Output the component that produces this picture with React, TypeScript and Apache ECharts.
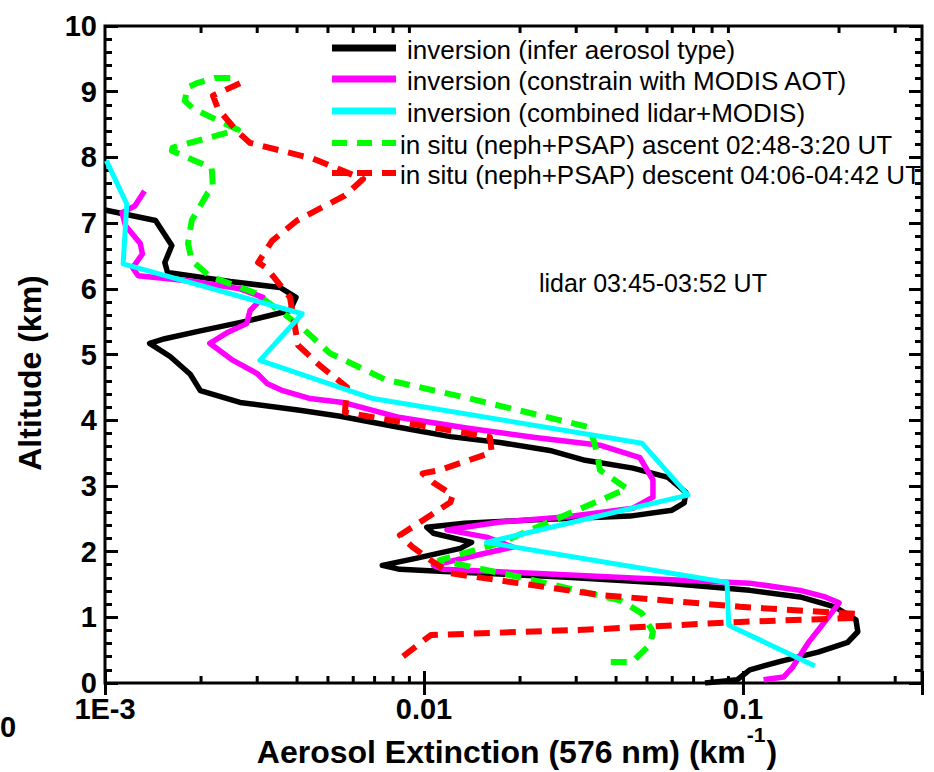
import React, { useEffect, useRef } from "react";
import * as echarts from "echarts";

const FONT = "'Liberation Sans', Arial, Helvetica, sans-serif";

const seriesNames = [
  "inversion (infer aerosol type)",
  "inversion (constrain with MODIS AOT)",
  "inversion (combined lidar+MODIS)",
  "in situ (neph+PSAP) ascent 02:48-3:20 UT",
  "in situ (neph+PSAP) descent 04:06-04:42 UT",
];

// inversion (infer aerosol type)
const blackAlt = [7.2, 7.04, 6.66, 6.4, 6.25, 6.11, 6.02, 5.87, 5.67, 5.52, 5.36, 5.24, 5.17, 4.97, 4.7, 4.45, 4.27, 4.15, 4.06, 3.89, 3.75, 3.66, 3.54, 3.39, 3.27, 3.13, 2.9, 2.74, 2.63, 2.54, 2.48, 2.43, 2.37, 2.28, 2.14, 2.05, 1.9, 1.79, 1.73, 1.7, 1.61, 1.52, 1.41, 1.31, 1.16, 0.96, 0.78, 0.62, 0.47, 0.33, 0.2, 0.05, 0.0];
const blackExt = [0.001, 0.00144, 0.00162, 0.00154, 0.00157, 0.00247, 0.00354, 0.00397, 0.0038, 0.00285, 0.00199, 0.00154, 0.00138, 0.0016, 0.00185, 0.00199, 0.00265, 0.00408, 0.00546, 0.00841, 0.0121, 0.0173, 0.0248, 0.032, 0.0452, 0.0582, 0.0662, 0.0654, 0.0599, 0.0442, 0.0215, 0.0134, 0.0102, 0.0107, 0.0141, 0.013, 0.0095, 0.0074, 0.0084, 0.0112, 0.0281, 0.0578, 0.105, 0.151, 0.194, 0.226, 0.229, 0.213, 0.172, 0.131, 0.105, 0.096, 0.076];

// inversion (constrain with MODIS AOT)
const magentaAlt = [7.49, 7.26, 7.16, 6.96, 6.69, 6.53, 6.32, 6.2, 6.12, 6.0, 5.87, 5.67, 5.47, 5.33, 5.17, 4.91, 4.71, 4.56, 4.45, 4.33, 4.27, 4.04, 3.88, 3.74, 3.62, 3.43, 3.09, 2.83, 2.66, 2.53, 2.45, 2.33, 2.22, 2.07, 1.91, 1.79, 1.73, 1.67, 1.6, 1.52, 1.41, 1.31, 1.22, 1.0, 0.61, 0.24, 0.09, 0.05];
const magentaExt = [0.00133, 0.00124, 0.00113, 0.00116, 0.00129, 0.00131, 0.00122, 0.00127, 0.00185, 0.00265, 0.00313, 0.00285, 0.00278, 0.00241, 0.00213, 0.00252, 0.003, 0.00322, 0.00361, 0.0044, 0.00557, 0.00841, 0.0136, 0.022, 0.0356, 0.0475, 0.0522, 0.0522, 0.0452, 0.0281, 0.0173, 0.0118, 0.0157, 0.019, 0.0136, 0.0107, 0.0115, 0.022, 0.0452, 0.105, 0.151, 0.181, 0.2, 0.185, 0.16, 0.143, 0.134, 0.116];

// inversion (combined lidar+MODIS)
const cyanAlt = [7.95, 7.29, 6.38, 5.62, 4.91, 4.33, 3.65, 2.86, 2.14, 1.53, 0.88, 0.26];
const cyanExt = [0.00101, 0.00117, 0.00114, 0.00415, 0.00306, 0.00692, 0.0482, 0.0672, 0.0157, 0.0891, 0.0902, 0.168];

// in situ ascent
const greenAlt = [9.21, 9.21, 9.13, 9.06, 8.86, 8.74, 8.42, 8.15, 8.1, 7.84, 7.54, 7.46, 7.04, 6.69, 6.43, 6.19, 5.94, 5.44, 5.02, 4.62, 4.33, 3.89, 3.5, 3.24, 2.96, 2.78, 2.13, 1.87, 1.61, 1.26, 1.06, 0.78, 0.58, 0.32, 0.32];
const greenExt = [0.00247, 0.00221, 0.00194, 0.00181, 0.00178, 0.00189, 0.00261, 0.00163, 0.00162, 0.00216, 0.00218, 0.0021, 0.00187, 0.00182, 0.00187, 0.00213, 0.00295, 0.00408, 0.00507, 0.00755, 0.0139, 0.0331, 0.0349, 0.0356, 0.0433, 0.0356, 0.0173, 0.0112, 0.02, 0.0411, 0.0482, 0.0522, 0.0511, 0.0449, 0.0375];

// in situ descent
const redAlt = [9.13, 8.94, 8.74, 8.4, 8.22, 7.98, 7.67, 7.42, 7.04, 6.73, 6.4, 6.31, 5.87, 5.14, 4.83, 4.5, 4.12, 3.74, 3.51, 3.24, 3.19, 3.05, 2.86, 2.75, 2.25, 2.07, 1.84, 1.67, 1.34, 1.16, 1.05, 0.99, 0.93, 0.82, 0.73, 0.35];
const redExt = [0.00265, 0.00218, 0.00226, 0.00259, 0.00285, 0.00449, 0.00644, 0.00565, 0.004, 0.00334, 0.00302, 0.00322, 0.0038, 0.00403, 0.00472, 0.00574, 0.00565, 0.0161, 0.0163, 0.0112, 0.0099, 0.0107, 0.0123, 0.0121, 0.0084, 0.0092, 0.0107, 0.0121, 0.0356, 0.098, 0.228, 0.228, 0.098, 0.0356, 0.0105, 0.0083];

const X_MIN = 0.001;
const X_MAX = 0.364;
const xTickValues = [0.001, 0.01, 0.1];
const xTickLabels = ["1E-3", "0.01", "0.1"];
const xMinorTicks = [0.002, 0.003, 0.004, 0.005, 0.006, 0.007, 0.008, 0.009, 0.02, 0.03, 0.04, 0.05, 0.06, 0.07, 0.08, 0.09, 0.2, 0.3];
const Y_MIN = 0;
const Y_MAX = 10;

const xTitle = "Aerosol Extinction (576 nm) (km";
const xTitleSup = "-1";
const xTitleEnd = ")";
const yTitle = "Altitude (km)";
const annotation = "lidar 03:45-03:52 UT";
const strayLabel = "0";

// drawing styles (not data)
const seriesStyles = [
  { color: "#000000", width: 5.5, dash: null as number[] | null, z: 3 },
  { color: "#ff00ff", width: 5.5, dash: null as number[] | null, z: 4 },
  { color: "#00ffff", width: 5, dash: null as number[] | null, z: 7 },
  { color: "#00ff00", width: 6, dash: [16, 10], z: 5 },
  { color: "#ff0000", width: 6, dash: [16, 10], z: 6 },
];

const pairs = (ext: number[], alt: number[]) => ext.map((v, i) => [v, alt[i]]);

function measure(text: string, font: string): number {
  const c = document.createElement("canvas").getContext("2d");
  if (!c) return text.length * 16;
  c.font = font;
  return c.measureText(text).width;
}

export default function App() {
  const ref = useRef<HTMLDivElement>(null);
  useEffect(() => {
    const chart = echarts.init(ref.current!, null, { renderer: "svg" });
    const tickLine = { color: "#000", width: 3 };
    const xLabelFormatter = (v: number) => {
      const i = xTickValues.findIndex((t) => Math.abs(Math.log10(t) - Math.log10(v)) < 1e-6);
      return i >= 0 ? xTickLabels[i] : "";
    };
    const xAxisBase = {
      type: "log",
      logBase: 10,
      min: X_MIN,
      max: X_MAX,
      axisLine: { show: false },
      splitLine: { show: false },
      axisTick: { inside: true, length: 12, lineStyle: tickLine },
    };
    const yAxisBase = {
      type: "value",
      min: Y_MIN,
      max: Y_MAX,
      interval: 1,
      axisLine: { show: false },
      splitLine: { show: false },
      axisTick: { inside: true, length: 13, lineStyle: tickLine },
      minorTick: { show: true, splitNumber: 5, length: 7, lineStyle: tickLine },
    };
    const datasets = [
      pairs(blackExt, blackAlt),
      pairs(magentaExt, magentaAlt),
      pairs(cyanExt, cyanAlt),
      pairs(greenExt, greenAlt),
      pairs(redExt, redAlt),
    ];
    const lineSeries = datasets.map((data, i) => {
      const s = seriesStyles[i];
      return {
        name: seriesNames[i],
        type: "line",
        data,
        symbol: "none",
        showSymbol: false,
        lineStyle: { color: s.color, width: s.width, type: s.dash || "solid", join: "round", cap: "butt" },
        itemStyle: { color: s.color },
        z: s.z,
        clip: true,
      };
    });

    // legend drawn as graphic: sample line + text per series
    const legendRowY = [48, 79, 111, 143, 173];
    const legendTextX = [407, 407, 407, 400, 400];
    const legendGraphics: any[] = [];
    seriesNames.forEach((name, i) => {
      const s = seriesStyles[i];
      legendGraphics.push({
        type: "line",
        shape: { x1: 332, y1: legendRowY[i], x2: 396, y2: legendRowY[i] },
        style: { stroke: s.color, lineWidth: s.dash ? 6 : 7, lineDash: s.dash ? [15, 10] : null },
        z: 100,
      });
      legendGraphics.push({
        type: "text",
        x: legendTextX[i],
        y: legendRowY[i] + 2,
        z: 100,
        style: {
          text: name,
          font: `26px ${FONT}`,
          fill: "#000",
          textAlign: "left",
          textVerticalAlign: "middle",
        },
      });
    });

    // x-axis title with superscript, laid out from measured widths
    const mainFont = `bold 32px ${FONT}`;
    const supFont = `bold 21px ${FONT}`;
    const w1 = measure(xTitle, mainFont);
    const w2 = measure(xTitleSup, supFont);
    const w3 = measure(xTitleEnd, mainFont);
    const titleCenter = 516;
    const x0 = titleCenter - (w1 + w2 + w3) / 2;
    const titleGraphics = [
      { type: "text", x: x0, y: 752, style: { text: xTitle, font: mainFont, fill: "#000", textAlign: "left", textVerticalAlign: "middle" } },
      { type: "text", x: x0 + w1 + 1, y: 734, style: { text: xTitleSup, font: supFont, fill: "#000", textAlign: "left", textVerticalAlign: "middle" } },
      { type: "text", x: x0 + w1 + w2 + 2, y: 752, style: { text: xTitleEnd, font: mainFont, fill: "#000", textAlign: "left", textVerticalAlign: "middle" } },
    ];

    const option: any = {
      animation: false,
      backgroundColor: "#fff",
      textStyle: { fontFamily: FONT },
      grid: {
        left: 105,
        right: 12,
        top: 26,
        bottom: 89,
        show: true,
        borderColor: "#000",
        borderWidth: 3,
        backgroundColor: "transparent",
      },
      xAxis: [
        {
          ...xAxisBase,
          position: "bottom",
          axisLabel: {
            formatter: xLabelFormatter,
            fontFamily: FONT,
            fontSize: 29,
            fontWeight: "bold",
            color: "#000",
            margin: 11,
          },
        },
        { ...xAxisBase, position: "top", axisLabel: { show: false } },
      ],
      yAxis: [
        {
          ...yAxisBase,
          position: "left",
          axisLabel: {
            fontFamily: FONT,
            fontSize: 29,
            fontWeight: "bold",
            color: "#000",
            margin: 8,
          },
        },
        { ...yAxisBase, position: "right", axisLabel: { show: false } },
      ],
      series: [
        {
          type: "custom",
          silent: true,
          xAxisIndex: 0,
          yAxisIndex: 0,
          data: xMinorTicks.map((v) => [v, Y_MIN]),
          z: 1,
          renderItem: (params: any, api: any) => {
            const v = api.value(0);
            const pb = api.coord([v, Y_MIN]);
            const pt = api.coord([v, Y_MAX]);
            const st = { stroke: "#000", lineWidth: 3 };
            return {
              type: "group",
              children: [
                { type: "line", shape: { x1: pb[0], y1: pb[1], x2: pb[0], y2: pb[1] - 7 }, style: st },
                { type: "line", shape: { x1: pt[0], y1: pt[1], x2: pt[0], y2: pt[1] + 7 }, style: st },
              ],
            };
          },
        },
        ...lineSeries,
      ],
      graphic: [
        ...legendGraphics,
        ...titleGraphics,
        {
          type: "text",
          x: 539,
          y: 283,
          style: {
            text: annotation,
            font: `25px ${FONT}`,
            fill: "#000",
            textAlign: "left",
            textVerticalAlign: "middle",
          },
        },
        {
          type: "text",
          x: 30,
          y: 373,
          rotation: Math.PI / 2,
          style: {
            text: yTitle,
            font: `bold 32px ${FONT}`,
            fill: "#000",
            textAlign: "center",
            textVerticalAlign: "middle",
          },
        },
        {
          type: "text",
          x: 8,
          y: 727,
          style: {
            text: strayLabel,
            font: `bold 29px ${FONT}`,
            fill: "#000",
            textAlign: "center",
            textVerticalAlign: "middle",
          },
        },
      ],
    };
    chart.setOption(option);
    return () => chart.dispose();
  }, []);
  return (
    <div
      ref={ref}
      style={{ position: "fixed", left: 0, top: 0, width: 934, height: 772, background: "#fff" }}
    />
  );
}
